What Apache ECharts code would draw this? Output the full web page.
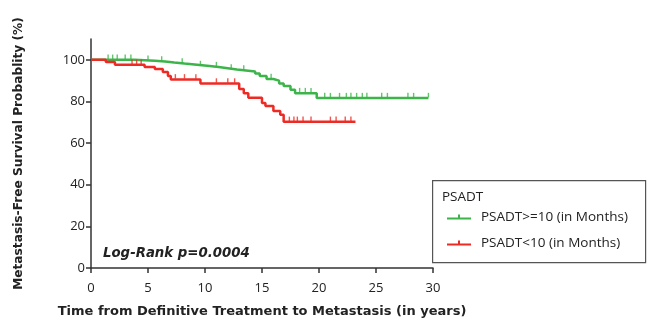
<!DOCTYPE html>
<html>
<head>
<meta charset="utf-8">
<script src="https://cdn.jsdelivr.net/npm/echarts@6/dist/echarts.min.js"></script>
<style>
  html, body { margin: 0; padding: 0; background: #fff; }
  #chart { width: 648px; height: 323px; }
</style>
</head>
<body>
<div id="chart"></div>
<script>
// Kaplan-Meier step curves (time in years, survival in %)
var highTimes = [0, 3.8, 5.6, 6.5, 7.3, 8.2, 9.3, 10.4, 11.2, 12.0, 12.8, 13.6, 14.4, 14.8, 15.4, 16.0, 16.5, 16.9, 17.5, 17.9, 19.8];
var highSurv  = [100, 99.6, 99.2, 98.7, 98.2, 97.6, 97.0, 96.5, 96.0, 95.4, 94.9, 94.4, 93.4, 92.2, 90.8, 90.0, 88.6, 87.4, 85.6, 84.0, 81.6];
var highEnd = 29.6;
var highCensor = [1.5, 1.9, 2.3, 3.0, 3.5, 5.0, 6.2, 8.0, 9.6, 11.0, 12.3, 13.4, 15.8, 18.3, 18.8, 19.3, 20.5, 21.0, 21.8, 22.4, 22.8, 23.3, 23.8, 24.2, 25.5, 26.0, 27.8, 28.3, 29.6];

var lowTimes = [0, 1.3, 2.1, 4.7, 5.6, 6.3, 6.75, 7.0, 9.6, 13.0, 13.4, 13.8, 15.0, 15.3, 16.0, 16.6, 16.9];
var lowSurv  = [100, 99.0, 97.6, 96.6, 95.6, 94.2, 92.2, 90.6, 88.6, 86.0, 84.0, 81.8, 79.2, 77.8, 75.4, 73.6, 70.2];
var lowEnd = 23.2;
var lowCensor = [3.6, 4.0, 4.4, 7.4, 8.2, 9.2, 11.0, 12.0, 12.6, 17.4, 17.8, 18.1, 18.6, 19.3, 21.0, 21.5, 22.3, 22.8];

var xTicks = [0, 5, 10, 15, 20, 25, 30];
var yTicks = [0, 20, 40, 60, 80, 100];

var groupNames = ['PSADT>=10 (in Months)', 'PSADT<10 (in Months)'];
var GREEN = '#3cb44a';
var RED = '#ee2a24';

function stepAt(times, surv, t) {
  var v = surv[0];
  for (var i = 0; i < times.length; i++) {
    if (times[i] <= t) v = surv[i];
  }
  return v;
}
function curve(times, surv, end) {
  var d = times.map(function (t, i) { return [t, surv[i]]; });
  d.push([end, surv[surv.length - 1]]);
  return d;
}
function marks(times, surv, cens) {
  return cens.map(function (t) { return [t, stepAt(times, surv, t)]; });
}

var chart = echarts.init(document.getElementById('chart'));
var axisFont = 'DejaVu Sans';
var tickFont = 'Open Sans';

var option = {
  animation: false,
  grid: { left: 91, right: 215, top: 39, bottom: 55 },
  xAxis: {
    type: 'value', min: 0, max: 30, interval: 5,
    name: 'Time from Definitive Treatment to Metastasis (in years)',
    nameLocation: 'middle', nameGap: 37,
    nameTextStyle: { fontFamily: axisFont, fontWeight: 'bold', fontSize: 13, color: '#222' },
    axisLine: { lineStyle: { color: '#333', width: 1.5 } },
    axisTick: { length: 5, lineStyle: { color: '#333', width: 1.5 }, customValues: xTicks },
    axisLabel: { fontFamily: tickFont, fontSize: 13, color: '#222', margin: 14, customValues: xTicks },
    splitLine: { show: false }
  },
  yAxis: {
    type: 'value', min: 0, max: 110, interval: 20,
    name: 'Metastasis-Free Survival Probablity (%)',
    nameLocation: 'middle', nameGap: 66, nameRotate: 90,
    nameTextStyle: { fontFamily: axisFont, fontWeight: 'bold', fontSize: 12.2, color: '#222' },
    axisLine: { show: true, lineStyle: { color: '#333', width: 1.5 } },
    axisTick: { show: true, length: 5, lineStyle: { color: '#333', width: 1.5 }, customValues: yTicks },
    axisLabel: { fontFamily: tickFont, fontSize: 13, color: '#222', margin: 6, customValues: yTicks },
    splitLine: { show: false }
  },
  legend: {
    data: groupNames,
    orient: 'vertical',
    left: 442, top: 205,
    itemWidth: 24, itemHeight: 7, itemGap: 12,
    icon: 'path://M0,4 L24,4 L24,6 L0,6 Z M11,1 L13,1 L13,5 L11,5 Z',
    textStyle: { fontFamily: tickFont, fontSize: 13.5, color: '#222', padding: [0, 0, 0, 5] }
  },
  graphic: [
    {
      type: 'rect', left: 432, top: 180, z: 0,
      shape: { width: 213, height: 82 },
      style: { fill: '#fff', stroke: '#555', lineWidth: 1.2 }
    },
    {
      type: 'text', left: 442, top: 190,
      style: { text: 'PSADT', font: '13.5px "Open Sans"', fill: '#222' }
    },
    {
      type: 'text', left: 103, top: 247,
      style: { text: 'Log-Rank p=0.0004', font: 'italic bold 13.3px "DejaVu Sans"', fill: '#222' }
    }
  ],
  series: [
    {
      name: groupNames[0], type: 'line', step: 'end', symbol: 'none',
      data: curve(highTimes, highSurv, highEnd),
      itemStyle: { color: GREEN }, lineStyle: { color: GREEN, width: 2.5 }, z: 3
    },
    {
      name: groupNames[1], type: 'line', step: 'end', symbol: 'none',
      data: curve(lowTimes, lowSurv, lowEnd),
      itemStyle: { color: RED }, lineStyle: { color: RED, width: 2.5 }, z: 4
    },
    {
      name: 'censor-high', type: 'scatter', symbol: 'rect', symbolSize: [1.4, 4.5], symbolOffset: [0, -3],
      data: marks(highTimes, highSurv, highCensor),
      itemStyle: { color: GREEN }, z: 3
    },
    {
      name: 'censor-low', type: 'scatter', symbol: 'rect', symbolSize: [1.4, 4.5], symbolOffset: [0, -3],
      data: marks(lowTimes, lowSurv, lowCensor),
      itemStyle: { color: RED }, z: 4
    }
  ]
};

chart.setOption(option);
</script>
</body>
</html>
